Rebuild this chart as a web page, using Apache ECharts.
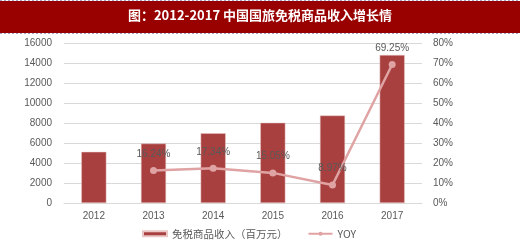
<!DOCTYPE html>
<html><head><meta charset="utf-8">
<script src="https://cdn.jsdelivr.net/npm/echarts@6/dist/echarts.min.js"></script>
<style>html,body{margin:0;padding:0;background:#fff}#c{width:520px;height:248px}</style>
</head><body><div id="c"></div>
<script>
const categories = ['2012','2013','2014','2015','2016','2017'];
const revenue = [5115, 5946, 6977, 8027, 8747, 14804];
const yoy = [null, 16.24, 17.34, 15.05, 8.97, 69.25];
const leftTicks = {min:0, max:16000, interval:2000};
const rightTicks = {min:0, max:80, interval:10};
const titleText = '图：2012-2017 中国国旅免税商品收入增长情';
const barName = '免税商品收入（百万元）';
const lineName = 'YOY';

const chart = echarts.init(document.getElementById('c'), null, {renderer:'canvas'});
const axisLabel = {color:'#595959', fontSize:10, fontFamily:'Liberation Sans, Arial'};
chart.setOption({
  animation:false,
  graphic:[
    {type:'rect', left:0, top:1, shape:{width:520, height:32}, style:{fill:'#990000'}},
    {type:'line', shape:{x1:0,y1:0.5,x2:520,y2:0.5}, style:{stroke:'#9fa4c8', lineWidth:1, lineDash:[2,2]}},
    {type:'line', shape:{x1:0,y1:33.5,x2:520,y2:33.5}, style:{stroke:'#9fa4c8', lineWidth:1, lineDash:[2,2]}},
    {type:'text', left:'center', top:9, style:{text:titleText, fill:'#fff', font:'bold 13px "Noto Sans CJK SC", sans-serif'}}
  ],
  grid:{left:64, right:98, top:43, bottom:45},
  legend:{
    bottom:4, left:137, itemGap:20,
    textStyle:{color:'#595959', fontSize:10.5, fontFamily:'"Noto Sans CJK SC", sans-serif'},
    data:[{name:barName, icon:'rect'}, {name:lineName}],
    itemWidth:24, itemHeight:5
  },
  xAxis:{
    type:'category', data:categories,
    axisLine:{lineStyle:{color:'#d9d9d9'}}, axisTick:{show:false},
    axisLabel:Object.assign({margin:8}, axisLabel)
  },
  yAxis:[
    {type:'value', min:leftTicks.min, max:leftTicks.max, interval:leftTicks.interval,
     axisLabel:Object.assign({margin:12, formatter:v=>String(v)}, axisLabel),
     splitLine:{lineStyle:{color:'#d9d9d9'}}, axisLine:{show:false}, axisTick:{show:false}},
    {type:'value', min:rightTicks.min, max:rightTicks.max, interval:rightTicks.interval,
     axisLabel:Object.assign({margin:11, formatter:'{value}%'}, axisLabel),
     splitLine:{show:false}, axisLine:{show:false}, axisTick:{show:false}}
  ],
  series:[
    {name:barName, type:'bar', data:revenue, barWidth:'42%',
     itemStyle:{color:'#a8403f', borderColor:'#e9c6c5', borderWidth:0.5}},
    {name:lineName, type:'line', yAxisIndex:1, data:yoy, connectNulls:false,
     symbol:'circle', symbolSize:7,
     lineStyle:{color:'#e0a3a3', width:2.5}, itemStyle:{color:'#e0a3a3'},
     label:{show:true, position:'top', distance:8, color:'#595959', fontSize:10,
            fontFamily:'Liberation Sans, Arial', formatter:p=>p.value.toFixed(2)+'%'}}
  ]
});
</script></body></html>
